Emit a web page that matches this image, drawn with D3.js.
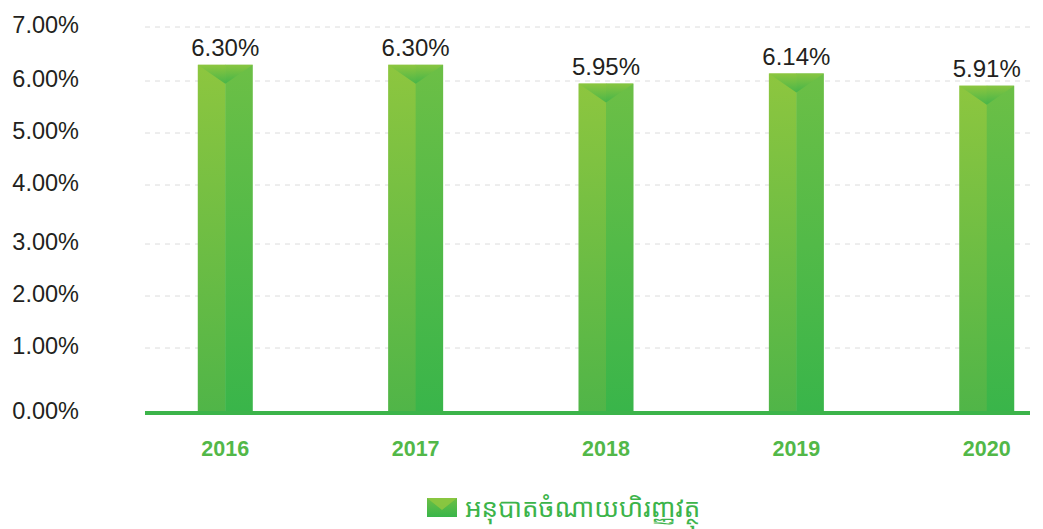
<!DOCTYPE html>
<html>
<head>
<meta charset="utf-8">
<script src="https://cdn.jsdelivr.net/npm/d3@7"></script>
<style>
  body { margin: 0; background: #fff; }
  svg text { font-family: "Liberation Sans", Arial, sans-serif; }
</style>
</head>
<body>
<svg id="chart" width="1043" height="529"></svg>
<script>
// data
const years = ["2016", "2017", "2018", "2019", "2020"];
const ratios = [6.30, 6.30, 5.95, 6.14, 5.91];
const yTicks = [0, 1, 2, 3, 4, 5, 6, 7];
const legendLabel = "អនុបាតចំណាយហិរញ្ញវត្ថុ";

const data = years.map((y, i) => ({ year: y, value: ratios[i] }));

const svg = d3.select("#chart");
const left = 145, right = 1030;

const x = d3.scaleBand()
  .domain(years)
  .range([left, right])
  .paddingInner(0.711)
  .paddingOuter(0.18)
  .align(0.77);

// gridlines in the source are not evenly spaced, so use a piecewise scale
const y = d3.scaleLinear()
  .domain(yTicks)
  .range([413, 348, 296, 244, 185, 133, 81, 27]);

// gradients
const defs = svg.append("defs");
function grad(id, c0, c1) {
  const g = defs.append("linearGradient").attr("id", id)
    .attr("x1", 0).attr("y1", 0).attr("x2", 0).attr("y2", 1);
  g.append("stop").attr("offset", "0%").attr("stop-color", c0);
  g.append("stop").attr("offset", "100%").attr("stop-color", c1);
}
grad("gLeft", "#8dc63f", "#50b548");
grad("gRight", "#6cbf46", "#39b54a");
grad("gTop", "#8dc63f", "#3fb34a");

// grid
svg.append("g")
  .selectAll("line")
  .data(yTicks.filter(d => d > 0))
  .join("line")
  .attr("x1", left).attr("x2", right)
  .attr("y1", d => y(d)).attr("y2", d => y(d))
  .attr("stroke", "#dcdcdc")
  .attr("stroke-width", 1)
  .attr("stroke-dasharray", "5,5");

// y labels
svg.append("g")
  .selectAll("text")
  .data(yTicks)
  .join("text")
  .attr("x", 79)
  .attr("y", d => y(d) - 2)
  .attr("dy", "0.35em")
  .attr("text-anchor", "end")
  .attr("font-size", 23.5)
  .attr("fill", "#231f20")
  .text(d => d.toFixed(2) + "%");

// bars
const bars = svg.append("g")
  .selectAll("g")
  .data(data)
  .join("g");

bars.append("rect")
  .attr("x", d => x(d.year))
  .attr("y", d => y(d.value))
  .attr("width", x.bandwidth() / 2 + 0.5)
  .attr("height", d => y(0) - y(d.value))
  .attr("fill", "url(#gLeft)");

bars.append("rect")
  .attr("x", d => x(d.year) + x.bandwidth() / 2)
  .attr("y", d => y(d.value))
  .attr("width", x.bandwidth() / 2)
  .attr("height", d => y(0) - y(d.value))
  .attr("fill", "url(#gRight)");

bars.append("path")
  .attr("d", d => {
    const x0 = x(d.year), x1 = x0 + x.bandwidth(), t = y(d.value);
    return `M${x0},${t}L${x1},${t}L${(x0 + x1) / 2},${t + 19}Z`;
  })
  .attr("fill", "url(#gTop)")
  .attr("opacity", 0.85);

// value labels
bars.append("text")
  .attr("x", d => x(d.year) + x.bandwidth() / 2)
  .attr("y", d => y(d.value) - 8.5)
  .attr("text-anchor", "middle")
  .attr("font-size", 24)
  .attr("fill", "#231f20")
  .text(d => d.value.toFixed(2) + "%");

// baseline
svg.append("line")
  .attr("x1", left).attr("x2", right)
  .attr("y1", y(0)).attr("y2", y(0))
  .attr("stroke", "#3cb44a")
  .attr("stroke-width", 4);

// x axis labels
svg.append("g")
  .attr("transform", `translate(0,${y(0)})`)
  .call(d3.axisBottom(x).tickSize(0).tickPadding(28))
  .call(g => g.select(".domain").remove())
  .selectAll("text")
  .attr("font-family", "Liberation Sans, Arial, sans-serif")
  .attr("font-size", 21.5)
  .attr("font-weight", "bold")
  .attr("fill", "#52b848");

// legend
const lg = svg.append("g").attr("transform", "translate(427,498)");
lg.append("rect")
  .attr("width", 30).attr("height", 19)
  .attr("fill", "url(#gRight)");
lg.append("path")
  .attr("d", "M0,0L30,0L15,12Z")
  .attr("fill", "#8dc63f")
  .attr("opacity", 0.9);
lg.append("text")
  .attr("x", 38)
  .attr("y", 19)
  .attr("font-size", 26)
  .attr("fill", "#3cb44a")
  .style("font-family", "'Noto Sans Khmer', 'Noto Sans', 'DejaVu Sans', sans-serif")
  .text(legendLabel);
</script>
</body>
</html>
